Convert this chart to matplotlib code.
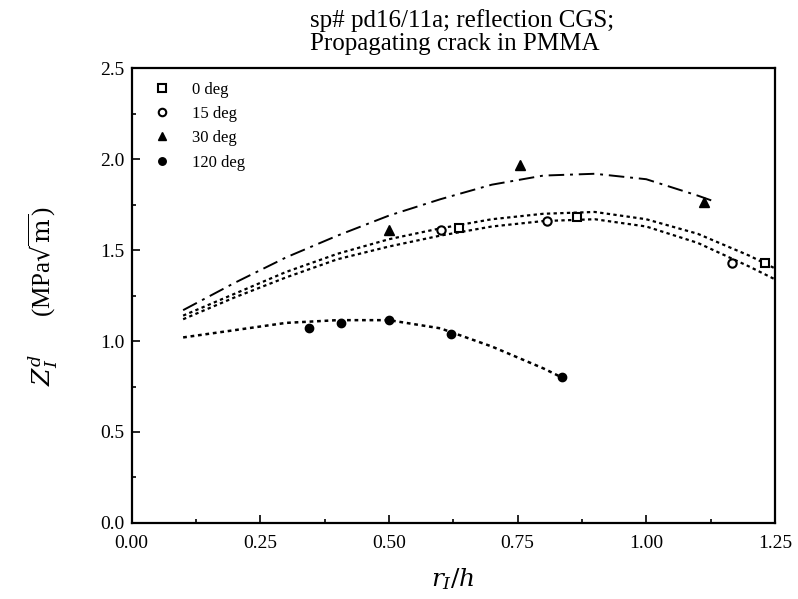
import matplotlib
matplotlib.use("Agg")
import matplotlib.pyplot as plt
from matplotlib.ticker import MultipleLocator

plt.rcParams["font.family"] = ["Liberation Serif", "DejaVu Serif"]
plt.rcParams["mathtext.fontset"] = "dejavuserif"

# measured points
x_0 = [0.636, 0.866, 1.231]
y_0 = [1.62, 1.68, 1.43]
x_15 = [0.601, 0.807, 1.167]
y_15 = [1.61, 1.66, 1.43]
x_30 = [0.50, 0.755, 1.113]
y_30 = [1.61, 1.97, 1.765]
x_120 = [0.345, 0.406, 0.50, 0.62, 0.836]
y_120 = [1.07, 1.10, 1.115, 1.04, 0.80]

# fitted curves
fx_0 = [0.10, 0.20, 0.30, 0.40, 0.50, 0.60, 0.70, 0.80, 0.90, 1.00, 1.10, 1.20, 1.25]
fy_0 = [1.14, 1.26, 1.38, 1.48, 1.56, 1.62, 1.67, 1.70, 1.71, 1.67, 1.59, 1.47, 1.40]
fx_15 = [0.10, 0.20, 0.30, 0.40, 0.50, 0.60, 0.70, 0.80, 0.90, 1.00, 1.10, 1.20, 1.25]
fy_15 = [1.12, 1.24, 1.35, 1.45, 1.52, 1.58, 1.63, 1.66, 1.67, 1.63, 1.54, 1.41, 1.34]
fx_30 = [0.10, 0.20, 0.30, 0.40, 0.50, 0.60, 0.70, 0.80, 0.90, 1.00, 1.10, 1.13]
fy_30 = [1.17, 1.32, 1.46, 1.58, 1.69, 1.78, 1.86, 1.91, 1.92, 1.89, 1.80, 1.77]
fx_120 = [0.10, 0.20, 0.30, 0.40, 0.50, 0.60, 0.70, 0.80, 0.836]
fy_120 = [1.02, 1.06, 1.10, 1.115, 1.115, 1.07, 0.97, 0.85, 0.80]

fig = plt.figure(figsize=(7.98, 5.99), dpi=100)
ax = fig.add_axes([0.165, 0.127, 0.806, 0.759])

dots = (0, (1.5, 1.5))
ax.plot(fx_0, fy_0, color="black", lw=1.6, linestyle=dots)
ax.plot(fx_15, fy_15, color="black", lw=1.6, linestyle=dots)
ax.plot(fx_30, fy_30, color="black", lw=1.4, linestyle=(0, (8, 3, 1.5, 3)))
ax.plot(fx_120, fy_120, color="black", lw=1.8, linestyle=dots)

ax.plot(x_0, y_0, "s", mfc="white", mec="black", mew=1.5, ms=6, ls="none", label="0 deg")
ax.plot(x_15, y_15, "o", mfc="white", mec="black", mew=1.5, ms=6, ls="none", label="15 deg")
ax.plot(x_30, y_30, "^", color="black", ms=7, ls="none", label="30 deg")
ax.plot(x_120, y_120, "o", color="black", ms=6, ls="none", label="120 deg")

ax.set_xlim(0, 1.25)
ax.set_ylim(0, 2.5)
ax.xaxis.set_major_locator(MultipleLocator(0.25))
ax.xaxis.set_minor_locator(MultipleLocator(0.125))
ax.yaxis.set_major_locator(MultipleLocator(0.5))
ax.yaxis.set_minor_locator(MultipleLocator(0.25))
ax.xaxis.set_major_formatter(plt.FuncFormatter(lambda v, p: f"{v:.2f}"))
ax.yaxis.set_major_formatter(plt.FuncFormatter(lambda v, p: f"{v:.1f}"))
ax.tick_params(which="both", direction="in", labelsize=14, width=1.2)
ax.tick_params(which="major", length=6)
ax.tick_params(which="minor", length=3)
ax.tick_params(axis="x", pad=9)
ax.tick_params(axis="y", pad=5)
for s in ax.spines.values():
    s.set_linewidth(1.6)

ax.legend(loc="upper left", frameon=False, fontsize=12, handletextpad=0.8,
          labelspacing=0.5, borderaxespad=0.4, markerscale=0.9)

ax.set_xlabel(r"$r_I/h$", fontsize=18, labelpad=10)
ax.set_ylabel(r"$Z_I^d$      (MPa$\sqrt{\mathrm{m}}$)", fontsize=18, labelpad=30)

fig.text(0.388, 0.985, "sp# pd16/11a; reflection CGS;\nPropagating crack in PMMA",
         ha="left", va="top", fontsize=18, linespacing=1.05)

fig.savefig("out.png", dpi=100)
